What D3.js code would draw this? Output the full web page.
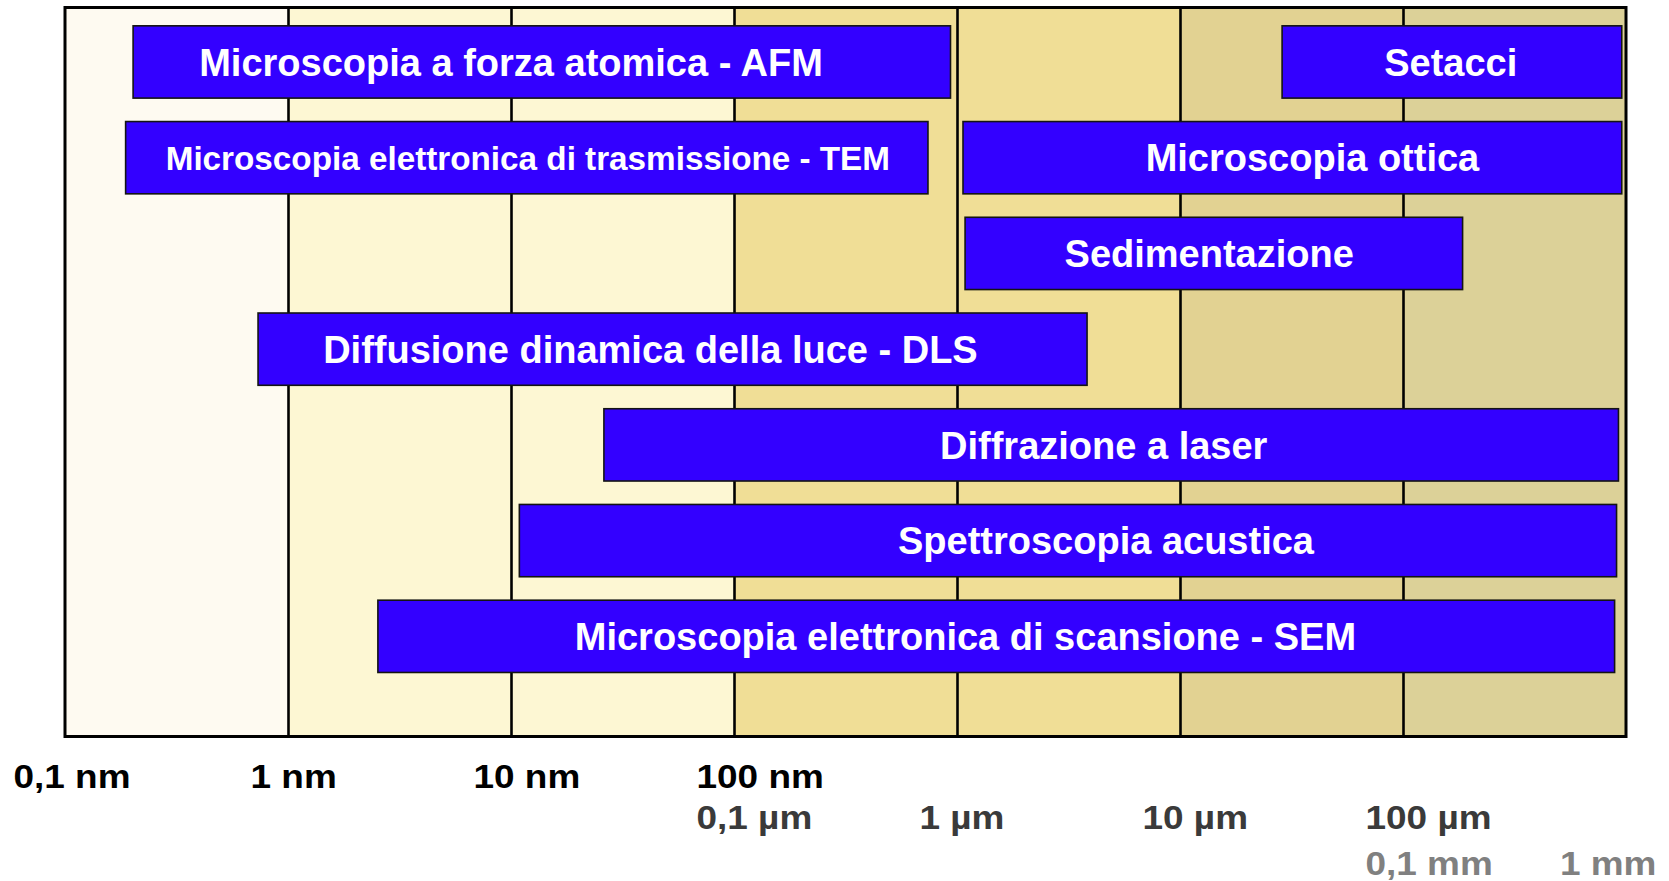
<!DOCTYPE html>
<html><head><meta charset="utf-8">
<script src="https://cdn.jsdelivr.net/npm/d3@7"></script>
<style>body{margin:0;background:#fff} svg{display:block}</style>
</head><body>
<svg id="chart" width="1669" height="881"></svg>
<script>
// ---- data (sizes in nm) ----
const decades = [0.1, 1, 10, 100, 1000, 10000, 100000, 1000000];
const bandColors = ["#FEFAF1", "#FDF7D3", "#FDF7D3", "#F0DE96", "#F0DE96", "#E2D292", "#DCD198"];
const techniques = [
  "Microscopia a forza atomica - AFM",
  "Setacci",
  "Microscopia elettronica di trasmissione - TEM",
  "Microscopia ottica",
  "Sedimentazione",
  "Diffusione dinamica della luce - DLS",
  "Diffrazione a laser",
  "Spettroscopia acustica",
  "Microscopia elettronica di scansione - SEM"
];
const rowOf   = [0, 0, 1, 1, 2, 3, 4, 5, 6];
const minSize = [0.202, 28700, 0.187, 1064, 1087, 0.734, 26.1, 10.9, 2.53];
const maxSize = [935, 957000, 741, 957000, 185000, 3830, 925000, 907000, 889000];
// size (nm) at which each label is centred
const labelAt = [10.0, 163700, 11.9, 39260, 13520, 42.2, 4550, 4656, 1091];
const nmLabels = ["0,1 nm", "1 nm", "10 nm", "100 nm"];
const nmValues = [0.1, 1, 10, 100];
const umLabels = ["0,1 µm", "1 µm", "10 µm", "100 µm"];
const umValues = [100, 1000, 10000, 100000];
const mmLabels = ["0,1 mm", "1 mm"];
const mmValues = [100000, 1000000];

// ---- layout ----
const svg = d3.select("#chart");
const pL = 65, pR = 1626, pT = 7.5, pB = 736.5;
const x = d3.scaleLog().domain([0.1, 1000000]).range([pL, pR]);
const y = d3.scaleBand().domain(d3.range(7)).range([14.1, 684.2])
  .paddingInner(0.245).paddingOuter(0.1225);

// background bands
svg.append("g").selectAll("rect")
  .data(d3.pairs(decades))
  .join("rect")
  .attr("x", d => x(d[0])).attr("y", pT)
  .attr("width", d => x(d[1]) - x(d[0])).attr("height", pB - pT)
  .attr("fill", (d, i) => bandColors[i]);

// vertical grid lines via axis
const grid = svg.append("g").attr("transform", `translate(0,${pB})`)
  .call(d3.axisBottom(x).tickValues(decades.slice(1, -1)).tickSize(-(pB - pT)).tickFormat(""));
grid.select(".domain").remove();
grid.selectAll("line").attr("stroke", "#000").attr("stroke-width", 2.6);

// bars
const idx = d3.range(techniques.length);
const bars = svg.append("g").selectAll("g").data(idx).join("g");
bars.append("rect")
  .attr("x", i => x(minSize[i]))
  .attr("y", i => y(rowOf[i]))
  .attr("width", i => x(maxSize[i]) - x(minSize[i]))
  .attr("height", y.bandwidth())
  .attr("fill", "#3300FF")
  .attr("stroke", "#141414")
  .attr("stroke-width", 1.6);
bars.append("text")
  .attr("x", i => x(labelAt[i]))
  .attr("y", i => y(rowOf[i]) + y.bandwidth() / 2)
  .attr("dy", "0.36em")
  .attr("text-anchor", "middle")
  .attr("fill", "#fff")
  .attr("font-family", "'Liberation Sans', Arial, sans-serif")
  .attr("font-weight", "bold")
  .attr("font-size", 38)
  .text(i => techniques[i])
  .each(function(i) {
    const avail = x(maxSize[i]) - x(minSize[i]) - 78;
    const w = this.getComputedTextLength();
    if (w > avail) d3.select(this).attr("font-size", 38 * avail / w);
  });

// frame
svg.append("rect")
  .attr("x", pL).attr("y", pT)
  .attr("width", pR - pL).attr("height", pB - pT)
  .attr("fill", "none").attr("stroke", "#000").attr("stroke-width", 3);

// axis labels (three rows)
const sx = 1.12;
function labelRow(values, labels, baseline, color) {
  const g = svg.append("g").attr("transform", `translate(0,${baseline})`)
    .call(d3.axisBottom(x).tickValues(values).tickSize(0).tickPadding(0)
      .tickFormat((d, i) => labels[i]));
  g.select(".domain").remove();
  g.selectAll("text")
    .attr("y", 0).attr("dy", null)
    .attr("fill", color)
    .attr("font-family", "'Liberation Sans', Arial, sans-serif")
    .attr("font-weight", "bold")
    .attr("font-size", 33)
    .attr("text-anchor", "start")
    .each(function(d) {
      const t = d3.select(this);
      const w = this.getComputedTextLength() * sx;
      let lx = x(d) - 38;
      if (lx + w > 1656) lx = 1656 - w;
      if (lx - 14 < 0 + pL - 38) lx = 13;
      t.attr("x", (lx - x(d)) / sx).attr("transform", `scale(${sx},1)`);
    });
}
labelRow(nmValues, nmLabels, 788, "#000");
labelRow(umValues, umLabels, 829, "#3a3a3a");
labelRow(mmValues, mmLabels, 875, "#808080");
</script>
</body></html>
